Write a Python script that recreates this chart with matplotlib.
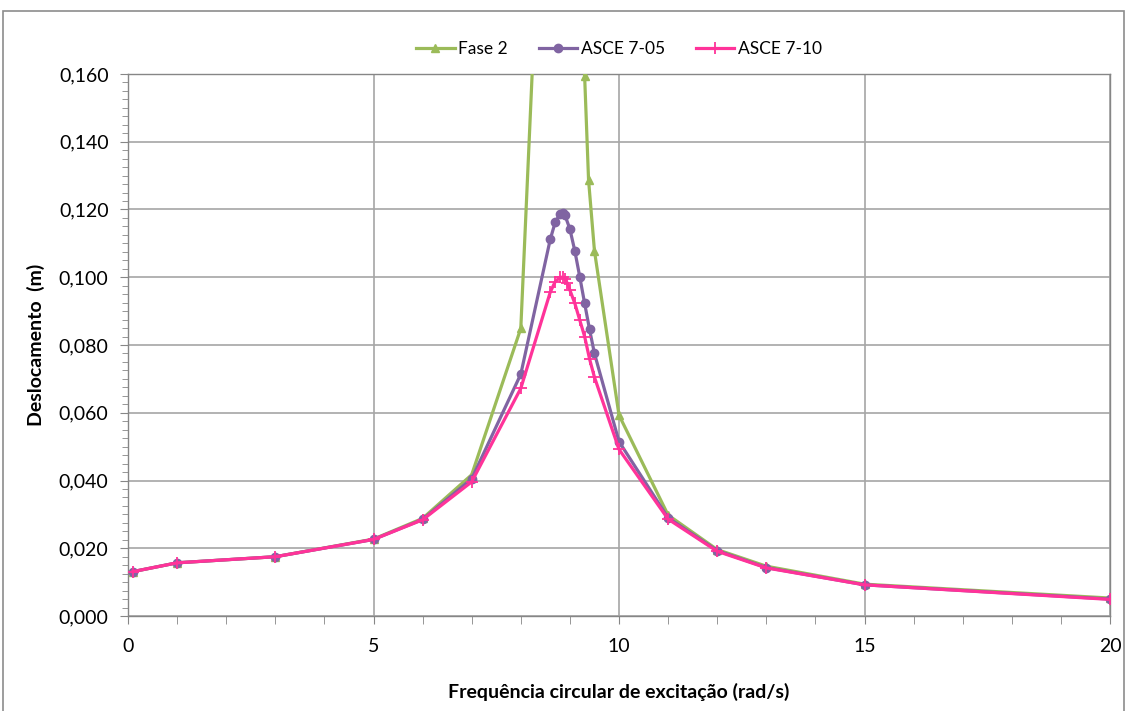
import matplotlib.pyplot as plt
from matplotlib.patches import Rectangle
from matplotlib.ticker import MultipleLocator, FuncFormatter

plt.rcParams['font.family'] = ['Lato', 'DejaVu Sans']

# data
fase2_x = [0.1, 1, 3, 5, 6, 7, 8, 8.8, 9.3, 9.38, 9.5, 10, 11, 12, 13, 15, 20]
fase2_y = [0.0131, 0.0157, 0.0175, 0.0227, 0.0288, 0.0417, 0.0849, 0.345, 0.1594,
           0.1287, 0.1078, 0.0593, 0.0298, 0.0196, 0.0147, 0.0094, 0.0053]

asce05_x = [0.1, 1, 3, 5, 6, 7, 8, 8.6, 8.7, 8.8, 8.85, 8.9, 9.0, 9.1, 9.2, 9.3,
            9.4, 9.5, 10, 11, 12, 13, 15, 20]
asce05_y = [0.0131, 0.0157, 0.0175, 0.0226, 0.0285, 0.0405, 0.0714, 0.1112, 0.1162,
            0.1187, 0.1189, 0.1183, 0.1142, 0.1078, 0.1002, 0.0923, 0.0846, 0.0775,
            0.0515, 0.0290, 0.0193, 0.0143, 0.0092, 0.0050]

asce10_x = [0.1, 1, 3, 5, 6, 7, 8, 8.6, 8.7, 8.8, 8.85, 8.9, 8.95, 9.0, 9.1, 9.2,
            9.3, 9.4, 9.5, 10, 11, 12, 13, 15, 20]
asce10_y = [0.0131, 0.0157, 0.0175, 0.0226, 0.0284, 0.0396, 0.0672, 0.0956, 0.0987,
            0.1000, 0.1000, 0.0994, 0.0982, 0.0962, 0.0923, 0.0874, 0.0825, 0.0759,
            0.0705, 0.0492, 0.0286, 0.0191, 0.0142, 0.0092, 0.0049]

series_names = ['Fase 2', 'ASCE 7-05', 'ASCE 7-10']
colors = ['#9BBB59', '#8064A2', '#FF3399']

fig = plt.figure(figsize=(11.27, 7.11), dpi=100)
ax = fig.add_axes([128 / 1127, 95 / 711, 982 / 1127, 542 / 711])

# outer chart border
fig.patches.append(Rectangle((3 / 1127, -0.01), 1121 / 1127, (700 / 711) + 0.01,
                             transform=fig.transFigure, fill=False,
                             edgecolor='#8C8C8C', linewidth=1.2))

ax.plot(fase2_x, fase2_y, color=colors[0], lw=2.3, marker='^', ms=6,
        label=series_names[0], zorder=3)
ax.plot(asce05_x, asce05_y, color=colors[1], lw=2.3, marker='o', ms=6,
        label=series_names[1], zorder=4)
ax.plot(asce10_x, asce10_y, color=colors[2], lw=2.3, marker='+', ms=9, mew=1.3,
        label=series_names[2], zorder=5)

ax.set_xlim(0, 20)
ax.set_ylim(0, 0.16)
ax.xaxis.set_major_locator(MultipleLocator(5))
ax.xaxis.set_minor_locator(MultipleLocator(1))
ax.yaxis.set_major_locator(MultipleLocator(0.02))
ax.yaxis.set_minor_locator(MultipleLocator(0.0025))
ax.yaxis.set_major_formatter(FuncFormatter(lambda v, p: f'{v:.3f}'.replace('.', ',')))

ax.grid(True, which='major', color='#A6A6A6', lw=1.2)
ax.set_axisbelow(True)
for s in ax.spines.values():
    s.set_color('#868686')
    s.set_linewidth(1.0)

ax.tick_params(which='major', direction='out', length=6, color='#868686',
               labelsize=14, pad=8)
ax.tick_params(axis='x', which='major', pad=10)
ax.tick_params(which='minor', direction='out', length=4, color='#868686')
ax.tick_params(axis='x', which='minor', length=6)

ax.set_xlabel('Frequência circular de excitação (rad/s)', fontsize=14,
              fontweight='bold', labelpad=20)
ax.set_ylabel('Deslocamento  (m)', fontsize=14, fontweight='bold', labelpad=10)

ax.legend(loc='lower center', bbox_to_anchor=(0.5, 1.0), ncol=3, frameon=False,
          fontsize=12.5, handlelength=2.2, handletextpad=0.2, columnspacing=1.8,
          borderaxespad=0.6)

fig.savefig('out.png', dpi=100)
